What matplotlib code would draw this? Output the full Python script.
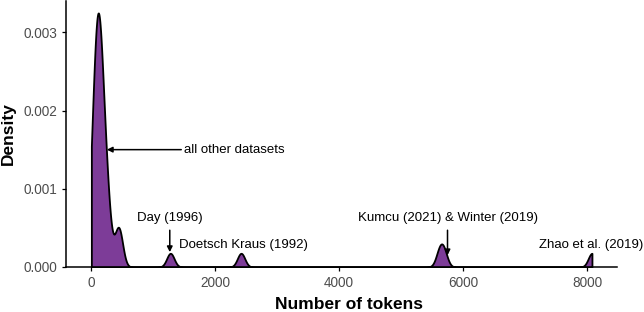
import numpy as np
import matplotlib
matplotlib.use("Agg")
import matplotlib.pyplot as plt
import seaborn as sns

# estimated token counts per dataset
small_sets = [5, 15, 25, 35, 45, 55, 65, 75, 85, 95, 100, 105, 110, 115, 120,
              125, 130, 135, 140, 150, 160, 170, 180, 190, 200, 215, 230, 250,
              270, 295, 420, 445, 470]
large_sets = [1280, 2420, 5620, 5690, 8080]
tokens = np.array(small_sets + large_sets, dtype=float)

bandwidth = 60.0
fill_color = "#7D3C98"

plt.rcParams["font.family"] = ["Liberation Sans", "DejaVu Sans"]

fig = plt.figure(figsize=(6.44, 3.12), dpi=100)
ax = fig.add_axes([66 / 644, 1 - 267 / 312, (617 - 66) / 644, 266 / 312])

sns.kdeplot(x=tokens, bw_method=bandwidth / tokens.std(ddof=1), cut=0,
            fill=True, color=fill_color, alpha=1, edgecolor="black",
            linewidth=1.3, gridsize=2000, ax=ax)

ax.set_xlim(-404, 8484)
ax.set_ylim(0, 0.0034)
ax.set_xticks([0, 2000, 4000, 6000, 8000])
ax.set_yticks([0, 0.001, 0.002, 0.003])
ax.set_yticklabels(["0.000", "0.001", "0.002", "0.003"])
ax.tick_params(colors="#4D4D4D", labelsize=9.8, length=3, width=0.9)
ax.tick_params(axis="both", color="black")
for s in ["top", "right"]:
    ax.spines[s].set_visible(False)
for s in ["left", "bottom"]:
    ax.spines[s].set_linewidth(1.1)

ax.set_xlabel("Number of tokens", fontsize=12.5, fontweight="bold")
ax.set_ylabel("Density", fontsize=12.5, fontweight="bold")
ax.xaxis.set_label_coords(0.514, -0.113)
ax.yaxis.set_label_coords(-0.091, 0.50)

arrow = dict(arrowstyle="-|>", color="black", lw=1.1, mutation_scale=8,
             shrinkA=0, shrinkB=0)
ax.annotate("all other datasets", xy=(255, 0.0015), xytext=(1500, 0.0015),
            ha="left", va="center", fontsize=9.5, arrowprops=arrow)
ax.annotate("", xy=(1270, 0.00019), xytext=(1270, 0.00047), arrowprops=arrow)
ax.text(1270, 0.00062, "Day (1996)", ha="center", va="center", fontsize=9.5)
ax.text(1420, 0.00028, "Doetsch Kraus (1992)", ha="left", va="center", fontsize=9.5)
ax.annotate("", xy=(5750, 0.00015), xytext=(5750, 0.00047), arrowprops=arrow)
ax.text(5750, 0.00062, "Kumcu (2021) & Winter (2019)", ha="center", va="center",
        fontsize=9.5)
ax.text(8060, 0.00028, "Zhao et al. (2019)", ha="center", va="center", fontsize=9.5)

fig.savefig("out.png", dpi=100)
